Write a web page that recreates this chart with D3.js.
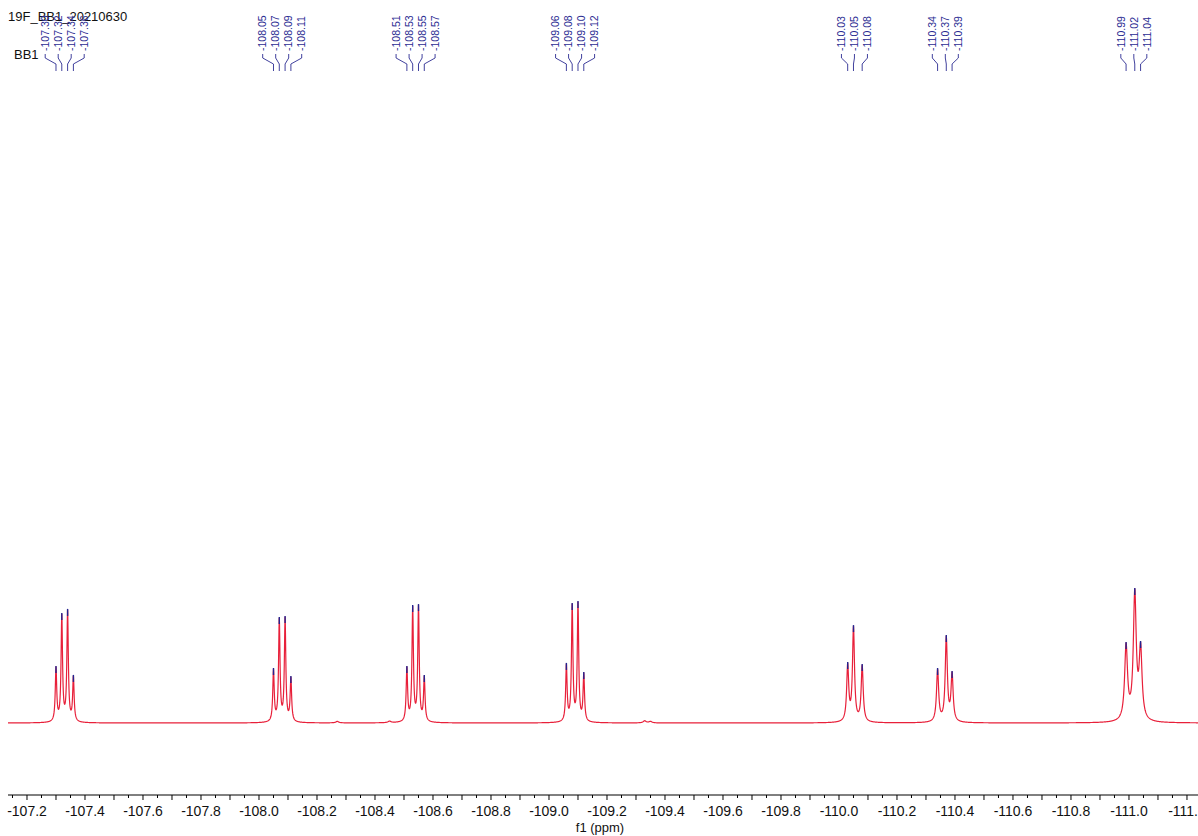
<!DOCTYPE html>
<html>
<head>
<meta charset="utf-8">
<script src="https://cdn.jsdelivr.net/npm/d3@7/dist/d3.min.js"></script>
<style>
  html, body { margin: 0; padding: 0; background: #ffffff; }
  svg { display: block; }
</style>
</head>
<body>
<svg id="chart" width="1198" height="836"></svg>
<script>
// ---------------- DATA ----------------
const titleText = "19F_BB1_20210630";
const sampleText = "BB1";
const axisTitle = "f1 (ppm)";

// peak shifts (ppm), heights (arbitrary intensity units), and multiplet index
const peakShifts = [
  -107.30, -107.32, -107.34, -107.36,
  -108.05, -108.07, -108.09, -108.11,
  -108.51, -108.53, -108.55, -108.57,
  -109.06, -109.08, -109.10, -109.12,
  -110.03, -110.05, -110.08,
  -110.34, -110.37, -110.39,
  -110.99, -111.02, -111.04
];
const peakHeights = [
  18.7, 36.3, 37.7, 15.7,
  18.0, 35.0, 35.3, 15.3,
  18.7, 39.0, 39.3, 15.7,
  19.7, 39.7, 40.3, 16.7,
  20.0, 32.3, 19.3,
  18.0, 29.0, 17.0,
  26.7, 44.7, 27.0
];
const peakGroup = [
  0,0,0,0, 1,1,1,1, 2,2,2,2, 3,3,3,3, 4,4,4, 5,5,5, 6,6,6
];
// half width at half height per multiplet (ppm)
const groupHalfWidth = [0.003, 0.003, 0.003, 0.003, 0.0042, 0.0044, 0.006];

// tiny baseline signals (ppm, height)
const minorShifts = [-108.27, -108.45, -109.33, -109.35];
const minorHeights = [0.5, 0.5, 0.7, 0.5];

// axis
const ppmDomain = [-107.1345, -111.238];
const tickLabels = ["-107.2","-107.4","-107.6","-107.8","-108.0","-108.2","-108.4","-108.6","-108.8",
                    "-109.0","-109.2","-109.4","-109.6","-109.8","-110.0","-110.2","-110.4","-110.6",
                    "-110.8","-111.0","-111.2"];

// ---------------- LAYOUT ----------------
const svg = d3.select("#chart");
const x = d3.scaleLinear().domain(ppmDomain).range([8, 1198]);
const y = d3.scaleLinear().domain([0, 100]).range([723, 423]);

const RED = "#e8203a", BLUE = "#23238e", LABEL = "#2b2b92";

function lor(p, c, w) { const d = (p - c) / w; return 1 / (1 + d * d); }

// amplitudes chosen so that the summed curve reaches the read heights at the peak positions
const widths = peakGroup.map(g => groupHalfWidth[g]);
let amps = peakHeights.slice();
for (let it = 0; it < 300; it++) {
  const next = amps.slice();
  for (let i = 0; i < peakShifts.length; i++) {
    let s = 0;
    for (let j = 0; j < peakShifts.length; j++) s += amps[j] * lor(peakShifts[i], peakShifts[j], widths[j]);
    next[i] = amps[i] + 0.5 * (peakHeights[i] - s);
  }
  amps = next;
}

function spectrum(p) {
  let s = 0;
  for (let j = 0; j < peakShifts.length; j++) s += amps[j] * lor(p, peakShifts[j], widths[j]);
  for (let j = 0; j < minorShifts.length; j++) s += minorHeights[j] * lor(p, minorShifts[j], 0.006);
  return s;
}

const step = 0.25;
const grid = d3.range(8, 1198 + step, step).map(px => x.invert(px));
const samples = grid.concat(peakShifts).sort((a, b) => b - a);
const curve = samples.map(p => [p, spectrum(p)]);

const line = d3.line().x(d => x(d[0])).y(d => y(d[1]));

svg.append("path")
  .attr("d", line(curve))
  .attr("fill", "none")
  .attr("stroke", RED)
  .attr("stroke-width", 1.2)
  .attr("stroke-linejoin", "round");

// blue peak-top markers
svg.append("g").selectAll("line").data(peakShifts).join("line")
  .attr("x1", d => x(d)).attr("x2", d => x(d))
  .attr("y1", d => y(spectrum(d)) - 1)
  .attr("y2", d => y(spectrum(d)) + 6)
  .attr("stroke", BLUE).attr("stroke-width", 1.4);

// ---------------- TITLES ----------------
svg.append("text").attr("x", 8).attr("y", 21)
  .attr("font-family", "Liberation Sans, Arial, sans-serif").attr("font-size", 13)
  .attr("fill", "#111").text(titleText);
svg.append("text").attr("x", 14).attr("y", 59)
  .attr("font-family", "Liberation Sans, Arial, sans-serif").attr("font-size", 13)
  .attr("fill", "#111").text(sampleText);

// ---------------- PEAK LABELS ----------------
const labelSpacing = 13;
const groups = d3.groups(peakShifts.map((p, i) => ({ p, g: peakGroup[i] })), d => d.g);
const labG = svg.append("g");
groups.forEach(([g, items]) => {
  const center = d3.mean(items, d => x(d.p));
  const n = items.length;
  items.forEach((d, k) => {
    const lx = center + (k - (n - 1) / 2) * labelSpacing;
    const px = x(d.p);
    labG.append("text")
      .attr("transform", `translate(${lx},51) rotate(-90)`)
      .attr("dy", "0.35em")
      .attr("text-anchor", "start")
      .attr("font-family", "Liberation Sans, Arial, sans-serif")
      .attr("font-size", 10.5)
      .attr("fill", LABEL)
      .text(d.p.toFixed(2));
    labG.append("path")
      .attr("d", `M${lx},54 L${lx},58 L${px},64 L${px},71`)
      .attr("fill", "none").attr("stroke", LABEL).attr("stroke-width", 0.9);
  });
});

// ---------------- AXIS ----------------
const axisY = 795;
const axG = svg.append("g").attr("transform", `translate(0,${axisY})`);
axG.append("line").attr("x1", 8).attr("x2", 1198).attr("y1", 0).attr("y2", 0)
  .attr("stroke", "#000").attr("stroke-width", 1);

const tickVals = d3.range(Math.round(ppmDomain[0] * 20), Math.round(ppmDomain[1] * 20) - 1, -1)
  .map(v => v / 20)
  .filter(v => v <= ppmDomain[0] && v >= ppmDomain[1]);
axG.selectAll("line.t").data(tickVals).join("line").attr("class", "t")
  .attr("x1", d => x(d)).attr("x2", d => x(d))
  .attr("y1", 0).attr("y2", d => (Math.abs(Math.round(d * 10) - d * 10) < 1e-6 ? 5 : 3))
  .attr("stroke", "#000").attr("stroke-width", 1);

axG.selectAll("text.tl").data(tickLabels).join("text").attr("class", "tl")
  .attr("x", d => x(+d)).attr("y", 21)
  .attr("text-anchor", "middle")
  .attr("font-family", "Liberation Sans, Arial, sans-serif").attr("font-size", 14)
  .attr("fill", "#111").text(d => d);

svg.append("text").attr("x", 600).attr("y", 832)
  .attr("text-anchor", "middle")
  .attr("font-family", "Liberation Sans, Arial, sans-serif").attr("font-size", 13)
  .attr("fill", "#111").text(axisTitle);
</script>
</body>
</html>
